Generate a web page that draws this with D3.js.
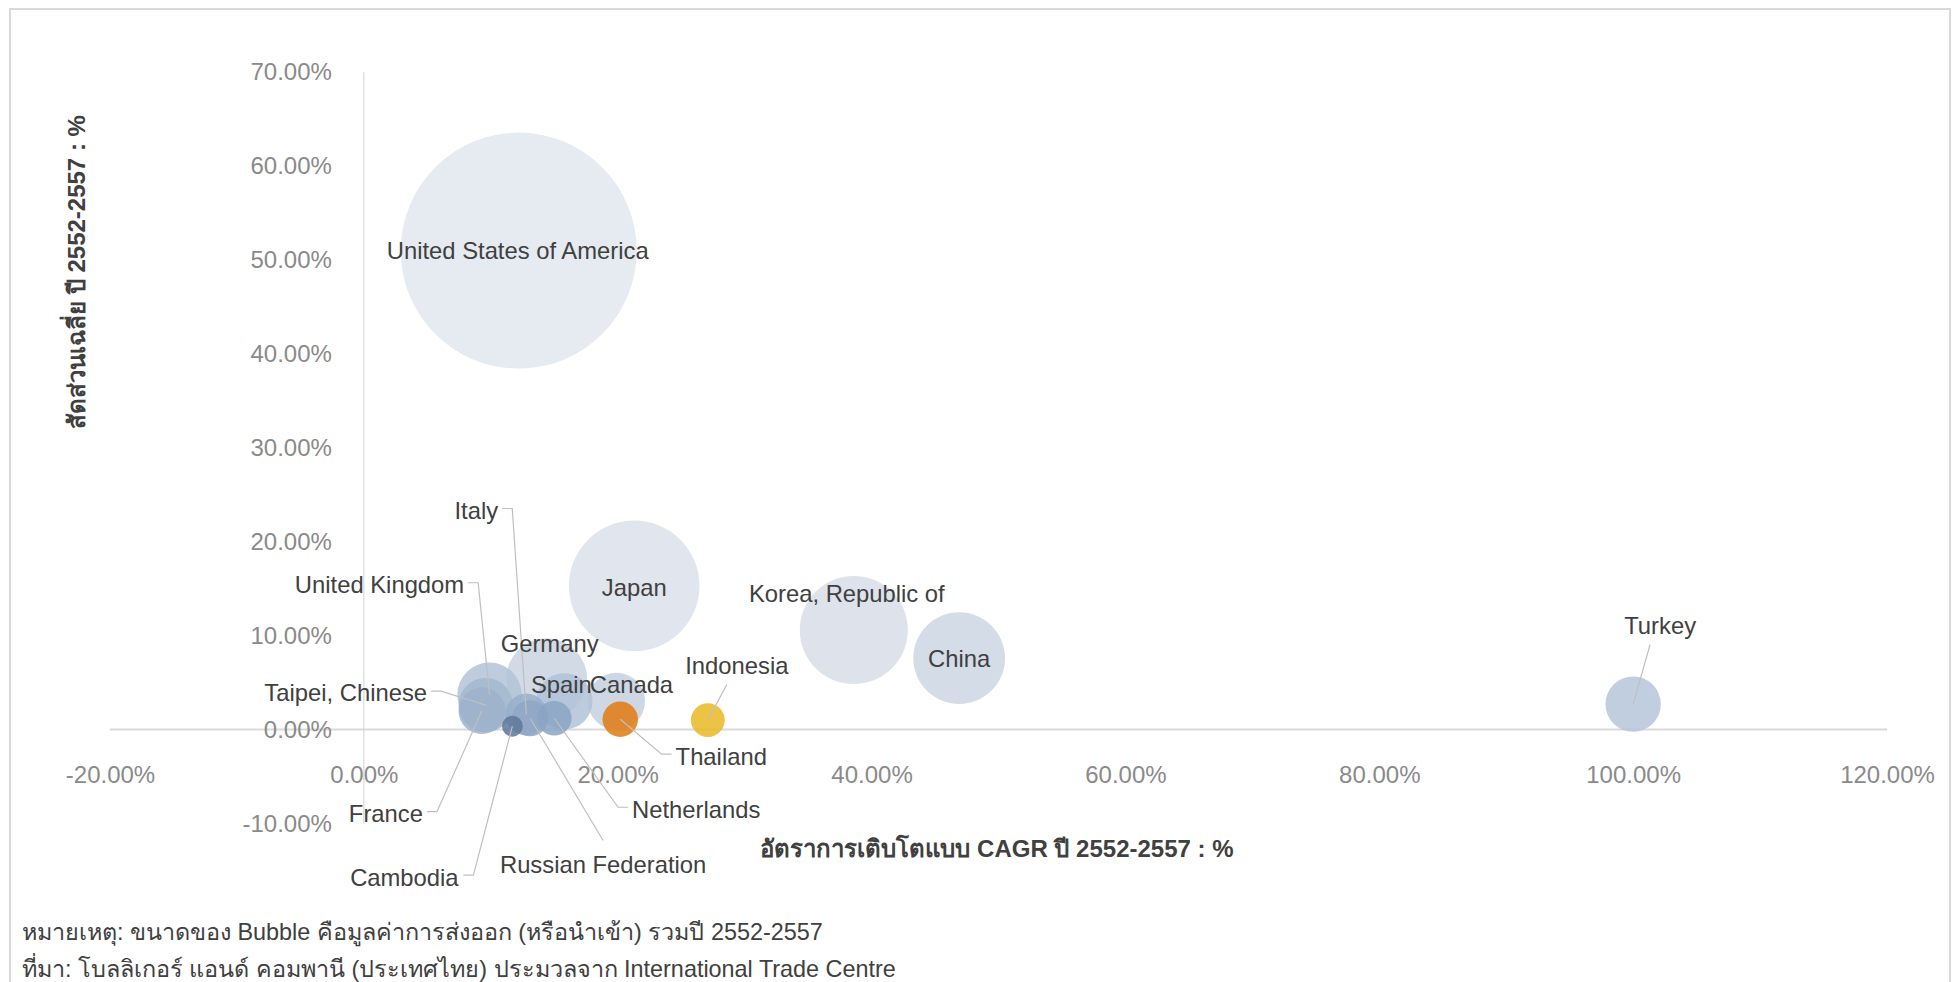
<!DOCTYPE html>
<html>
<head>
<meta charset="utf-8">
<script src="https://cdnjs.cloudflare.com/ajax/libs/d3/7.8.5/d3.min.js"></script>
<style>
body { margin: 0; background: #fff; }
svg text { font-family: "Liberation Sans", Arial, "Noto Sans", "DejaVu Sans", sans-serif; }
.axisLabel { font-weight: bold; fill: #404040; font-size: 24px; }
.note { fill: #404040; font-size: 23.4px; }
</style>
</head>
<body>
<svg id="bubble-chart"></svg>
<script>
// values (percent)
const countries = ['United States of America', 'Japan', 'Korea, Republic of', 'China', 'Germany',
    'United Kingdom', 'Canada', 'Spain', 'Turkey', 'Taipei, Chinese', 'France', 'Italy',
    'Russian Federation', 'Netherlands', 'Thailand', 'Indonesia', 'Cambodia'];
const cagr = [12.2, 21.3, 38.6, 46.9, 14.4, 9.9, 19.9, 15.8, 100.0, 9.6, 9.3, 12.8, 13.1, 15.0, 20.2, 27.1, 11.7];
const share = [51.0, 15.3, 10.6, 7.6, 5.4, 3.7, 3.0, 3.0, 2.7, 2.6, 2.0, 1.6, 1.2, 1.2, 1.1, 1.0, 0.35];
const bubbleSize = [51.0, 15.6, 10.7, 7.7, 6.0, 3.8, 3.0, 2.9, 2.8, 2.7, 2.0, 1.6, 1.2, 1.1, 1.15, 1.05, 0.4];
const bubbleColors = ['#e2e6ee', '#dce1ea', '#d7dde7', '#cdd6e3', '#c9d3e1', '#b3c3d8', '#c5d0df', '#b2c2d8',
    '#b6c6da', '#a3b7cf', '#9db2cd', '#98aeca', '#8ea7c5', '#8aa4c3', '#e07b12', '#e9b824', '#5d7899'];
const xTicks = [-0.2, 0, 0.2, 0.4, 0.6, 0.8, 1.0, 1.2];
const yTicks = [-0.1, 0, 0.1, 0.2, 0.3, 0.4, 0.5, 0.6, 0.7];

// where each data label sits relative to its bubble, and which side the leader leaves from
const labelLayout = {
    'United States of America': { dx: -1, dy: 0 },
    'Japan': { dx: 0, dy: 2 },
    'Korea, Republic of': { dx: -7, dy: -36 },
    'China': { dx: 0, dy: 1 },
    'Turkey': { dx: 27, dy: -78, leader: 'bottom' },
    'Germany': { dx: 3, dy: -35 },
    'United Kingdom': { dx: -110, dy: -110, leader: 'right' },
    'Canada': { dx: 15, dy: -17 },
    'Spain': { dx: -3, dy: -17 },
    'Taipei, Chinese': { dx: -140, dy: -12, leader: 'right' },
    'France': { dx: -96, dy: 103, leader: 'right' },
    'Italy': { dx: -50, dy: -204, leader: 'right' },
    'Russian Federation': { dx: 73, dy: 146, leader: 'top' },
    'Netherlands': { dx: 142, dy: 91, leader: 'left' },
    'Thailand': { dx: 101, dy: 37, leader: 'left' },
    'Indonesia': { dx: 29, dy: -54, leader: 'bottom' },
    'Cambodia': { dx: -108, dy: 151, leader: 'right' }
};

const xTitle = 'อัตราการเติบโตแบบ CAGR ปี 2552-2557 : %';
const yTitle = 'สัดส่วนเฉลี่ย ปี 2552-2557 : %';
const notes = ['หมายเหตุ: ขนาดของ Bubble คือมูลค่าการส่งออก (หรือนำเข้า) รวมปี 2552-2557',
    'ที่มา: โบลลิเกอร์ แอนด์ คอมพานี (ประเทศไทย) ประมวลจาก International Trade Centre'];

class BubbleChart {
    constructor() {
        this.width = 1957;
        this.height = 982;
        this.data = countries.map((c, i) => ({
            name: c, x: cagr[i] / 100, y: share[i] / 100, size: bubbleSize[i], color: bubbleColors[i]
        }));
        this.scaleX = d3.scaleLinear().domain([-0.2, 1.2]).range([110, 1887]);
        this.scaleY = d3.scaleLinear().domain([-0.1, 0.7]).range([823.4, 72.2]);
        this.scaleR = d3.scaleSqrt().domain([0, d3.max(bubbleSize)]).range([0, 118]);
        this.drawPlot();
    }

    drawPlot() {
        let that = this;
        let svg = d3.select('#bubble-chart')
            .attr('width', this.width)
            .attr('height', this.height);
        let pct = d => (d * 100).toFixed(2) + '%';

        svg.append('rect')
            .attr('x', 10).attr('y', 9)
            .attr('width', 1940).attr('height', 1000)
            .attr('fill', 'none')
            .attr('stroke', '#d9d9d9')
            .attr('stroke-width', 2);

        let x0 = this.scaleX(0), y0 = this.scaleY(0);

        // axis lines cross at zero
        svg.append('line')
            .attr('x1', x0).attr('x2', x0)
            .attr('y1', this.scaleY(0.7)).attr('y2', this.scaleY(-0.1))
            .attr('stroke', '#d9d9d9').attr('stroke-width', 1.2);
        svg.append('line')
            .attr('x1', this.scaleX(-0.2)).attr('x2', this.scaleX(1.2))
            .attr('y1', y0).attr('y2', y0)
            .attr('stroke', '#d9d9d9').attr('stroke-width', 2);

        let yAxis = svg.append('g')
            .attr('transform', 'translate(' + x0 + ',0)')
            .call(d3.axisLeft(this.scaleY).tickValues(yTicks).tickSize(0).tickPadding(32).tickFormat(pct));
        let xAxis = svg.append('g')
            .attr('transform', 'translate(0,' + y0 + ')')
            .call(d3.axisBottom(this.scaleX).tickValues(xTicks).tickSize(0).tickPadding(36).tickFormat(pct));
        [xAxis, yAxis].forEach(a => {
            a.select('.domain').remove();
            a.selectAll('text')
                .attr('fill', '#8a8a8a')
                .style('font-size', '24px')
                .style('font-family', '"Liberation Sans", Arial, sans-serif');
        });

        // biggest bubbles first so the small ones stay visible
        let sorted = this.data.slice().sort((a, b) => b.size - a.size);
        svg.append('g')
            .selectAll('circle')
            .data(sorted)
            .join('circle')
            .attr('cx', d => that.scaleX(d.x))
            .attr('cy', d => that.scaleY(d.y))
            .attr('r', d => that.scaleR(d.size))
            .attr('fill', d => d.color)
            .attr('fill-opacity', 0.85);

        let leaders = svg.append('g');
        let labels = svg.append('g');
        this.data.forEach(d => {
            let lay = labelLayout[d.name];
            let cx = that.scaleX(d.x), cy = that.scaleY(d.y);
            let lx = cx + lay.dx, ly = cy + lay.dy;
            let t = labels.append('text')
                .attr('x', lx).attr('y', ly)
                .attr('dy', '0.35em')
                .attr('text-anchor', 'middle')
                .attr('fill', '#404040')
                .style('font-size', '23.8px')
                .text(d.name);
            if (!lay.leader) return;
            let b = t.node().getBBox();
            let path;
            if (lay.leader === 'right') {
                let sx = b.x + b.width + 4;
                path = 'M' + sx + ',' + (ly - 2) + 'H' + (sx + 10) + 'L' + cx + ',' + cy;
            } else if (lay.leader === 'left') {
                let sx = b.x - 4;
                path = 'M' + sx + ',' + (ly - 2) + 'H' + (sx - 10) + 'L' + cx + ',' + cy;
            } else if (lay.leader === 'bottom') {
                path = 'M' + (lx - 10) + ',' + (b.y + b.height + 5) + 'L' + cx + ',' + cy;
            } else {
                path = 'M' + lx + ',' + (b.y - 10) + 'L' + cx + ',' + cy;
            }
            leaders.append('path')
                .attr('d', path)
                .attr('fill', 'none')
                .attr('stroke', '#bfbfbf')
                .attr('stroke-width', 1.2);
        });

        svg.append('text')
            .attr('transform', 'translate(' + 997 + ',' + 849 + ')')
            .attr('dy', '0.35em')
            .style('text-anchor', 'middle')
            .text(xTitle)
            .attr('class', 'axisLabel');

        svg.append('text')
            .attr('transform', 'translate(' + 77 + ',' + 272 + ') rotate(-90)')
            .attr('dy', '0.35em')
            .style('text-anchor', 'middle')
            .text(yTitle)
            .attr('class', 'axisLabel');

        svg.selectAll('.note')
            .data(notes)
            .join('text')
            .attr('class', 'note')
            .attr('x', 22)
            .attr('y', (d, i) => 932 + i * 37)
            .attr('dy', '0.35em')
            .text(d => d);
    }
}

new BubbleChart();
</script>
</body>
</html>
